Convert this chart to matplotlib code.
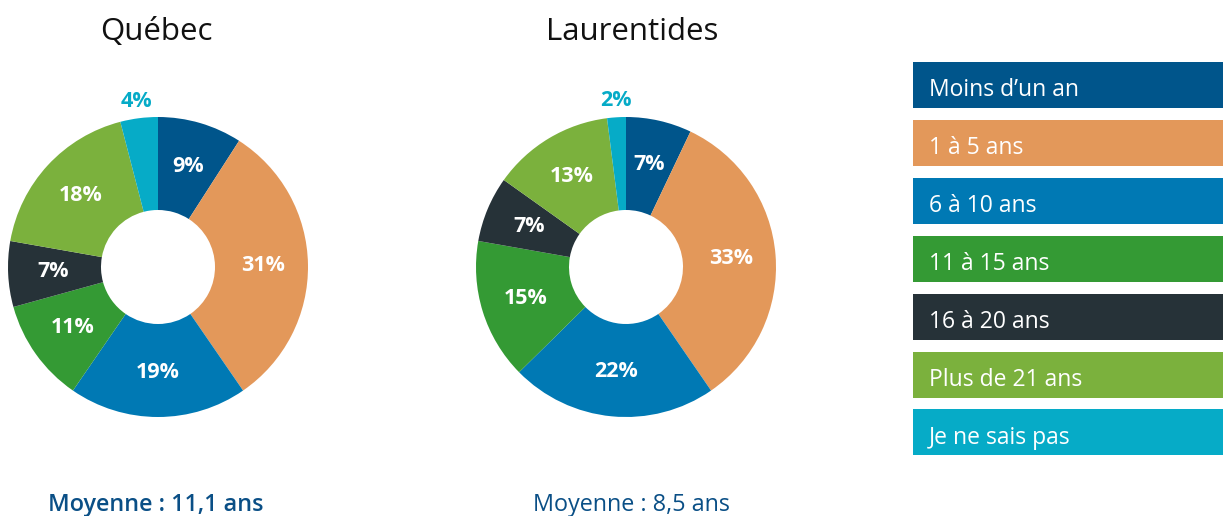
import matplotlib
matplotlib.use("Agg")
import matplotlib.pyplot as plt
from matplotlib.patches import Rectangle
import numpy as np

plt.rcParams['font.family'] = ['Open Sans', 'DejaVu Sans']

categories = ["Moins d\u2019un an", "1 \u00e0 5 ans", "6 \u00e0 10 ans", "11 \u00e0 15 ans",
              "16 \u00e0 20 ans", "Plus de 21 ans", "Je ne sais pas"]
colors = ["#00558b", "#e3985a", "#0079b4", "#349a34", "#263238", "#7bb13d", "#06abc7"]
quebec = [9, 31, 19, 11, 7, 18, 4]
laurentides = [7, 33, 22, 15, 7, 13, 2]
titles = ["Qu\u00e9bec", "Laurentides"]
moyennes = ["Moyenne : 11,1 ans", "Moyenne : 8,5 ans"]

W, H = 1223, 516
fig = plt.figure(figsize=(W / 100, H / 100), dpi=100)

R = 150.0
half = 175.0


def donut(cx, cy, values, title, title_x, moy, moy_x, moy_weight):
    ax = fig.add_axes([(cx - half) / W, 1 - (cy + half) / H, 2 * half / W, 2 * half / H])
    lim = half / R
    ax.pie(values, colors=colors, startangle=90, counterclock=False,
           radius=1, wedgeprops=dict(width=0.62, linewidth=0))
    total = sum(values)
    ang = 90.0
    for v, c in zip(values, colors):
        theta = ang - v / total * 360 / 2
        ang -= v / total * 360
        rad = np.deg2rad(theta)
        if v <= 4:
            r = 1.11
            col = c
        else:
            r = 0.70
            col = "white"
        ax.text(r * np.cos(rad), r * np.sin(rad), f"{v}%", ha="center", va="center",
                color=col, fontsize=15.5, fontweight="bold")
    ax.set_xlim(-lim, lim)
    ax.set_ylim(-lim, lim)
    ax.set_aspect("equal")
    ax.axis("off")
    fig.text(title_x / W, 1 - 40 / H, title, ha="center", va="baseline", fontsize=22.5,
             color="#111111")
    fig.text(moy_x / W, 1 - 511 / H, moy, ha="center", va="baseline", fontsize=16.8,
             color="#0a4f86", fontweight=moy_weight)


donut(158, 267, quebec, titles[0], 156, moyennes[0], 156, "semibold")
donut(626, 267, laurentides, titles[1], 632, moyennes[1], 631, "normal")

# legend boxes
lx0, lx1 = 913, 1223
top, bottom = 62, 455
lax = fig.add_axes([lx0 / W, 1 - bottom / H, (lx1 - lx0) / W, (bottom - top) / H])
lax.set_xlim(lx0, lx1)
lax.set_ylim(bottom, top)
lax.axis("off")
step = 57.9
bh = 46
for i, (cat, c) in enumerate(zip(categories, colors)):
    y0 = top + i * step
    lax.add_patch(Rectangle((lx0, y0), lx1 - lx0, bh, facecolor=c, edgecolor="none"))
    lax.text(929, y0 + 34.5, cat, ha="left", va="baseline", color="white", fontsize=16.5)

fig.savefig("out.png", dpi=100)
